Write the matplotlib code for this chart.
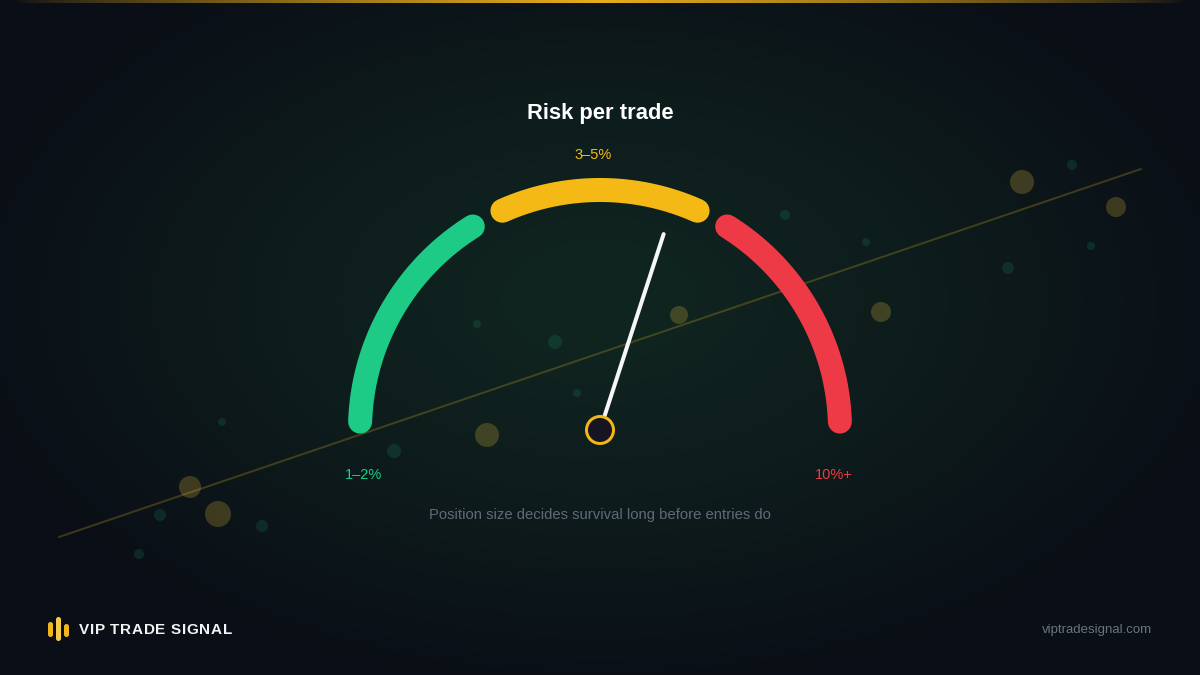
import numpy as np
import matplotlib.pyplot as plt
from matplotlib.patches import Circle, FancyBboxPatch

W, H = 1200, 675
PX = 72 / 100  # points per pixel at dpi 100

# gauge zones (angles in degrees, 180 = left end, 0 = right end)
zone_labels = ['1–2%', '3–5%', '10%+']
zone_colors = ['#1dcb87', '#f5b916', '#ee3a46']
zone_start = [178, 114, 58]
zone_end = [122, 66, 2]
needle_deg = 72

title = 'Risk per trade'
subtitle = 'Position size decides survival long before entries do'
brand = 'VIP TRADE SIGNAL'
site = 'viptradesignal.com'

# decorative bokeh dots: x, y, radius (px)
gold_x = [1022, 1116, 881, 679, 487, 190, 218]
gold_y = [182, 207, 312, 315, 435, 487, 514]
gold_r = [12, 10, 10, 9, 12, 11, 13]
teal_x = [1072, 866, 1008, 1091, 555, 477, 577, 394, 222, 160, 262, 139, 785]
teal_y = [165, 242, 268, 246, 342, 324, 393, 451, 422, 515, 526, 554, 215]
teal_r = [5, 4, 6, 4, 7, 4, 4, 7, 4, 6, 6, 5, 5]

fig = plt.figure(figsize=(12, 6.75), dpi=100)
ax = fig.add_axes([0, 0, 1, 1])
ax.set_xlim(0, W)
ax.set_ylim(H, 0)
ax.axis('off')

# background: dark navy with a soft green glow in the middle
yy, xx = np.mgrid[0:H, 0:W]
d = np.sqrt(((xx - 600) / 660.0) ** 2 + ((yy - 300) / 400.0) ** 2)
t = np.clip(d, 0, 1) ** 1.3
inner = np.array([0x10, 0x25, 0x20]) / 255.0
outer = np.array([0x0a, 0x0e, 0x16]) / 255.0
bg = inner[None, None, :] * (1 - t[..., None]) + outer[None, None, :] * t[..., None]
ax.imshow(bg, extent=(0, W, H, 0), zorder=0, aspect='auto')

# top gold line, fading at the edges
gx = np.linspace(0, 1, W)
ga = np.clip(1 - np.abs(gx - 0.5) * 2.05, 0, 1) ** 0.7
top = np.zeros((1, W, 4))
top[..., 0] = 0xe8 / 255
top[..., 1] = 0xad / 255
top[..., 2] = 0x1c / 255
top[..., 3] = ga
ax.imshow(top, extent=(0, W, 3, 0), zorder=1, aspect='auto')

# faint diagonal trend line
ax.plot([59, 1141], [537, 169], color='#c9a227', alpha=0.28, lw=2 * PX, zorder=2,
        solid_capstyle='round')

for x, y, r in zip(gold_x, gold_y, gold_r):
    ax.add_patch(Circle((x, y), r, color='#d8b23a', alpha=0.25, lw=0, zorder=2))
for x, y, r in zip(teal_x, teal_y, teal_r):
    ax.add_patch(Circle((x, y), r, color='#1fb98a', alpha=0.15, lw=0, zorder=2))

# gauge
cx, cy, R = 600, 430, 240
for a0, a1, c in zip(zone_start, zone_end, zone_colors):
    th = np.radians(np.linspace(a0, a1, 120))
    ax.plot(cx + R * np.cos(th), cy - R * np.sin(th), color=c, lw=24 * PX,
            solid_capstyle='round', zorder=4)

nl = 206
nt = np.radians(needle_deg)
ax.plot([cx, cx + nl * np.cos(nt)], [cy, cy - nl * np.sin(nt)], color='#f4f6f8',
        lw=4 * PX, solid_capstyle='round', zorder=5)
ax.add_patch(Circle((cx, cy), 13.5, facecolor='#151522', edgecolor='#f2b618',
                    lw=3 * PX, zorder=6))

font = 'Liberation Sans'
ax.text(600, 113, title, color='white', fontsize=15.8, fontweight='bold',
        ha='center', va='center', family=font, zorder=7)
ax.text(593, 155, zone_labels[1], color=zone_colors[1], fontsize=10.5,
        ha='center', va='center', family=font, zorder=7)
ax.text(364, 475, zone_labels[0], color=zone_colors[0], fontsize=10.5,
        ha='center', va='center', family=font, zorder=7)
ax.text(834, 475, zone_labels[2], color=zone_colors[2], fontsize=10.5,
        ha='center', va='center', family=font, zorder=7)
ax.text(600, 515, subtitle, color='#5f6a78', fontsize=10.7,
        ha='center', va='center', family=font, zorder=7)

# footer brand
bars_x = [50.5, 58.5, 66.5]
bars_y0 = [622, 617, 624]
bars_y1 = [637, 641, 637]
bars_c = ['#f2b51c', '#f6c949', '#f2b51c']
for x, y0, y1, c in zip(bars_x, bars_y0, bars_y1, bars_c):
    ax.add_patch(FancyBboxPatch((x - 2.5, y0), 5, y1 - y0,
                                boxstyle='round,pad=0,rounding_size=2.5',
                                facecolor=c, edgecolor='none', zorder=7))

# brand name with letter spacing, char by char
rend = fig.canvas.get_renderer()
bx = 79.0
for ch in brand:
    tx = ax.text(bx, 630, ch, color='#f2f3f5', fontsize=11, fontweight='bold',
                 ha='left', va='center', family=font, zorder=7)
    if ch == ' ':
        w = 4.0
    else:
        w = tx.get_window_extent(rend).width
    bx += w + 0.7

ax.text(1152, 630, site, color='#6b7380', fontsize=9.5,
        ha='right', va='center', family=font, zorder=7)

fig.savefig('out.png', dpi=100, facecolor='#0a0e16')
